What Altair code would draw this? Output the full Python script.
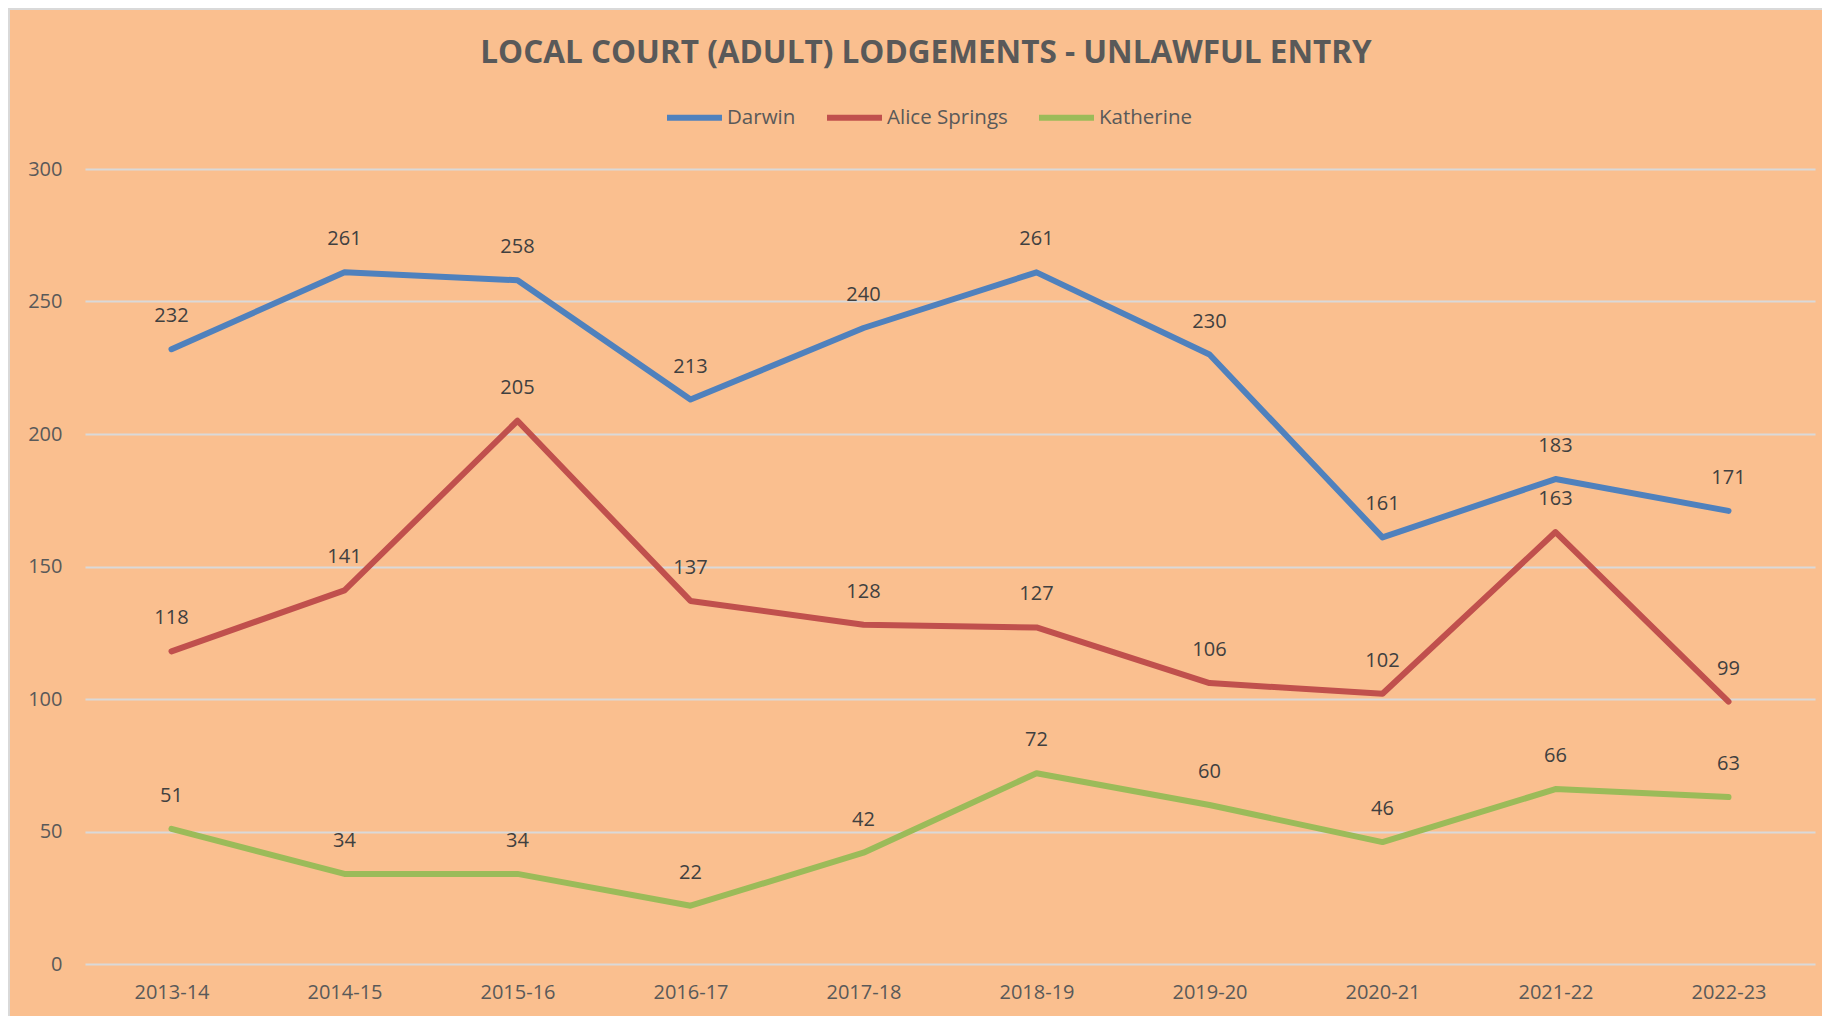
import altair as alt
import pandas as pd

years = ["2013-14", "2014-15", "2015-16", "2016-17", "2017-18",
         "2018-19", "2019-20", "2020-21", "2021-22", "2022-23"]
darwin = [232, 261, 258, 213, 240, 261, 230, 161, 183, 171]
alice_springs = [118, 141, 205, 137, 128, 127, 106, 102, 163, 99]
katherine = [51, 34, 34, 22, 42, 72, 60, 46, 66, 63]

series_names = ["Darwin", "Alice Springs", "Katherine"]
series_colors = ["#4F81BD", "#C0504D", "#9BBB59"]
y_ticks = [0, 50, 100, 150, 200, 250, 300]
title_text = "LOCAL COURT (ADULT) LODGEMENTS - UNLAWFUL ENTRY"

rows = []
for name, vals in zip(series_names, [darwin, alice_springs, katherine]):
    for yr, v in zip(years, vals):
        rows.append({"Year": yr, "Series": name, "Value": v})
df = pd.DataFrame(rows)

W, H = 1730, 795
FONT = "Open Sans"

x_enc = alt.X("Year:N", sort=years,
              scale=alt.Scale(type="point", padding=0.5),
              axis=alt.Axis(title=None, labelAngle=0, ticks=False, domain=False,
                            grid=False, labelFontSize=20, labelColor="#595959",
                            labelFont=FONT, labelPadding=18))
y_enc = alt.Y("Value:Q", scale=alt.Scale(domain=[0, 300], nice=False, zero=True),
              axis=alt.Axis(title=None, values=y_ticks, ticks=False, domain=False,
                            gridColor="#D9D9D9", gridWidth=2, labelFontSize=20,
                            labelColor="#595959", labelFont=FONT, labelPadding=23))
color_enc = alt.Color("Series:N",
                      scale=alt.Scale(domain=series_names, range=series_colors),
                      legend=alt.Legend(title=None, orient="none", direction="horizontal",
                                        legendX=579, legendY=-82,
                                        symbolType="stroke", symbolSize=3025,
                                        symbolStrokeWidth=6, labelFontSize=20.5,
                                        labelFont=FONT, labelColor="#595959",
                                        labelOffset=2, columnPadding=19))

base = alt.Chart(df)

lines = base.mark_line(strokeWidth=6, strokeCap="round", strokeJoin="round").encode(
    x=x_enc, y=y_enc, color=color_enc)

labels = base.mark_text(fontSize=20, font=FONT, color="#404040", dy=-33,
                        baseline="middle").encode(
    x=alt.X("Year:N", sort=years), y="Value:Q", text="Value:Q")

deco = alt.Chart(alt.Data(values=[{"t": title_text}]))
title_mark = deco.mark_text(font=FONT, fontSize=31.5, fontWeight="bold", color="#595959",
                            align="center", baseline="middle").encode(
    x=alt.value(841), y=alt.value(-115), text="t:N")
top_border = deco.mark_rule(color="#D9D9D9", strokeWidth=2).encode(
    x=alt.value(-77), x2=alt.value(W + 20), y=alt.value(-160))
left_border = deco.mark_rule(color="#D9D9D9", strokeWidth=2).encode(
    x=alt.value(-76), y=alt.value(-161), y2=alt.value(H + 60))

chart = alt.layer(lines, labels, title_mark, top_border, left_border).properties(
    width=W, height=H,
    autosize=alt.AutoSizeParams(type="none"),
    padding={"left": 77, "top": 161, "right": 7, "bottom": 52},
    background="#FABF8F",
).configure_view(stroke=None)

chart.save("out.html", embed_options={"renderer": "svg", "actions": False})
